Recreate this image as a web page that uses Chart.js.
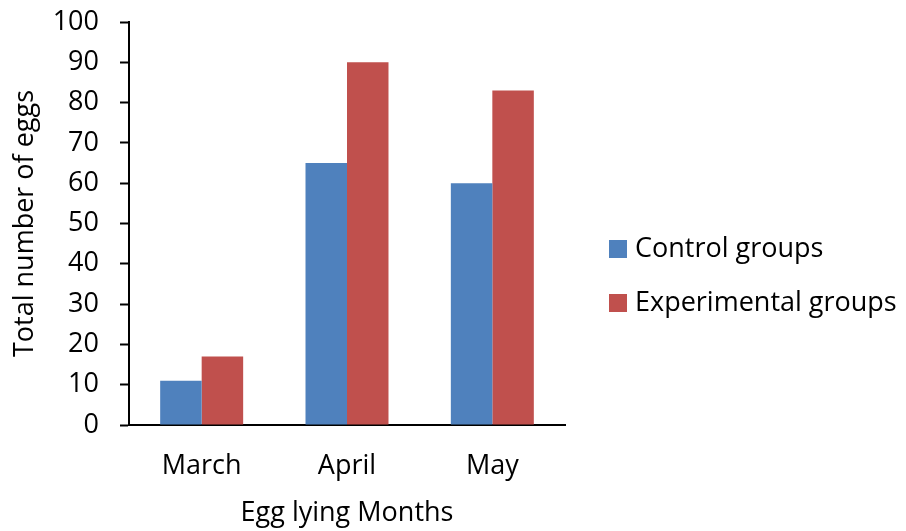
<!DOCTYPE html>
<html>
<head>
<meta charset="utf-8">
<script src="https://cdn.jsdelivr.net/npm/chart.js@4"></script>
<style>
  html, body { margin: 0; padding: 0; background: #fff; }
  #wrap { width: 906px; height: 531px; }
</style>
</head>
<body>
<div id="wrap"><canvas id="eggChart" width="906" height="531"></canvas></div>
<script>
const months = ['March', 'April', 'May'];
const controlGroups = [11, 65, 60];
const experimentalGroups = [17, 90, 83];
const yTicks = [0, 10, 20, 30, 40, 50, 60, 70, 80, 90, 100];

const fontFamily = '"Open Sans", Calibri, sans-serif';
const fontSize = 27;
const ctx = document.getElementById('eggChart').getContext('2d');

// legend drawn by hand so it can sit where the original has it
const sideLegend = {
    id: 'sideLegend',
    afterDraw(chart) {
        const c = chart.ctx;
        const x = chart.chartArea.right + 44;
        const startY = 249;
        const gap = 54;
        c.save();
        c.font = fontSize + 'px ' + fontFamily;
        c.textBaseline = 'middle';
        c.fillStyle = '#000';
        chart.data.datasets.forEach((ds, i) => {
            const y = startY + i * gap;
            c.fillStyle = ds.backgroundColor;
            c.fillRect(x, y - 9, 18, 18);
            c.fillStyle = '#000';
            c.fillText(ds.label, x + 26, y);
        });
        c.restore();
    }
};

new Chart(ctx, {
    type: 'bar',
    data: {
        labels: months,
        datasets: [
            { label: 'Control groups', data: controlGroups, backgroundColor: '#4F81BD' },
            { label: 'Experimental groups', data: experimentalGroups, backgroundColor: '#C0504D' }
        ]
    },
    plugins: [sideLegend],
    options: {
        responsive: false,
        animation: false,
        layout: { padding: { top: 22, right: 341, bottom: 0, left: 0 } },
        datasets: { bar: { barPercentage: 1, categoryPercentage: 0.571 } },
        plugins: {
            tooltip: { enabled: false },
            legend: { display: false }
        },
        scales: {
            x: {
                afterFit: axis => { axis.height = 106; },
                grid: { display: false, drawTicks: false },
                border: { display: true, color: '#000', width: 2 },
                ticks: { color: '#000', font: { family: fontFamily, size: fontSize }, padding: 25 },
                title: {
                    display: true,
                    text: 'Egg lying Months',
                    color: '#000',
                    font: { family: fontFamily, size: fontSize },
                    padding: { top: 0, bottom: 1 }
                }
            },
            y: {
                min: 0,
                max: 100,
                afterBuildTicks: axis => { axis.ticks = yTicks.map(v => ({ value: v })); },
                afterFit: axis => {
                    axis.width = 129;
                    axis.paddingTop = 0;
                    axis.paddingBottom = 0;
                },
                grid: { drawOnChartArea: false, drawTicks: true, tickLength: 9, tickWidth: 2, tickColor: '#000' },
                border: { display: true, color: '#000', width: 2 },
                ticks: { color: '#000', font: { family: fontFamily, size: fontSize }, padding: 21 },
                title: {
                    display: true,
                    text: 'Total number of eggs',
                    color: '#000',
                    font: { family: fontFamily, size: fontSize },
                    padding: { top: 9, bottom: 0 }
                }
            }
        }
    }
});
</script>
</body>
</html>
